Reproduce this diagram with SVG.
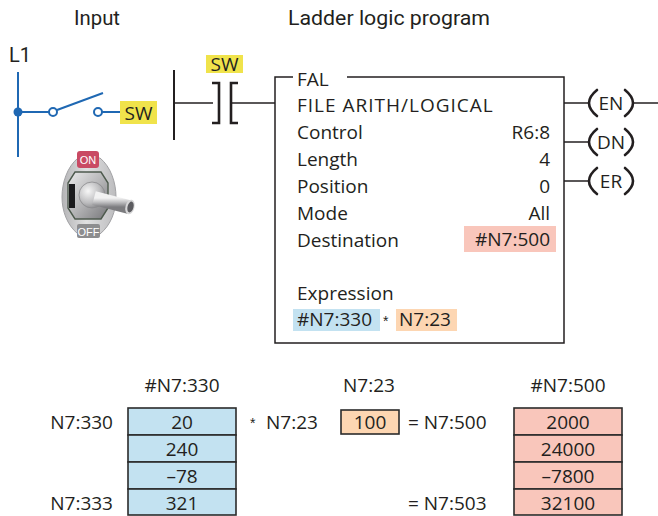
<svg xmlns="http://www.w3.org/2000/svg" width="658" height="516" viewBox="0 0 658 516">
  <defs>
    <style>
      .t { font-family: "Open Sans", "Liberation Sans", sans-serif; font-size: 19px; fill: #231f20; }
      .h { font-family: Roboto, "Liberation Sans", sans-serif; font-size: 20px; fill: #231f20; }
      .c { font-family: "Open Sans", "Liberation Sans", sans-serif; font-size: 19px; fill: #231f20; text-anchor: middle; }
      .e { text-anchor: end; }
      .m { text-anchor: middle; }
      .star { font-family: "Liberation Sans", sans-serif; font-size: 14px; fill: #231f20; }
      .wire { fill: none; stroke: #231f20; stroke-width: 1.5; }
      .rail { fill: none; stroke: #231f20; stroke-width: 2; }
      .blue { fill: none; stroke: #1f68b3; stroke-width: 2; }
      .paren { fill: none; stroke: #231f20; stroke-width: 2.6; stroke-linecap: round; }
      .cell { stroke: #2b2b2b; stroke-width: 1.6; }
      .cb { fill: #c3e2f1; }
      .cp { fill: #f9c6bb; }
      .co { fill: #fdd6b2; }
      .tag { fill: #f0e34b; }
    </style>
    <linearGradient id="plateG" x1="0" y1="0" x2="1" y2="0">
      <stop offset="0" stop-color="#b4b4b6"/>
      <stop offset="0.45" stop-color="#e0e0e1"/>
      <stop offset="1" stop-color="#bcbcbe"/>
    </linearGradient>
    <linearGradient id="nutG" x1="0" y1="0" x2="1" y2="1">
      <stop offset="0" stop-color="#ececec"/>
      <stop offset="0.55" stop-color="#b0b0b2"/>
      <stop offset="1" stop-color="#77777a"/>
    </linearGradient>
    <radialGradient id="bossG" cx="0.35" cy="0.35" r="0.75">
      <stop offset="0" stop-color="#f7f7f7"/>
      <stop offset="0.6" stop-color="#bdbdbf"/>
      <stop offset="1" stop-color="#808083"/>
    </radialGradient>
    <linearGradient id="leverG" x1="0" y1="0" x2="0" y2="1">
      <stop offset="0" stop-color="#f2f2f2"/>
      <stop offset="0.45" stop-color="#c2c2c4"/>
      <stop offset="1" stop-color="#7c7c7f"/>
    </linearGradient>
  </defs>

  <!-- section titles -->
  <text class="h" x="74" y="25" textLength="46" lengthAdjust="spacingAndGlyphs">Input</text>
  <text class="h" x="288" y="25" textLength="202" lengthAdjust="spacingAndGlyphs">Ladder logic program</text>

  <!-- input wiring: L1 line with a normally open switch -->
  <g id="input-circuit">
    <text class="h" x="9" y="62" font-size="19">L1</text>
    <line class="blue" x1="18" y1="72" x2="18" y2="157"/>
    <circle cx="18" cy="112" r="4.5" fill="#1f68b3"/>
    <line class="blue" x1="18" y1="112" x2="49" y2="112"/>
    <circle class="blue" cx="53" cy="112" r="4" fill="#fff"/>
    <line class="blue" x1="57" y1="110" x2="103" y2="93"/>
    <circle class="blue" cx="98" cy="112" r="4" fill="#fff"/>
    <line class="blue" x1="102" y1="112" x2="120" y2="112"/>
    <rect class="tag" x="120" y="101" width="37" height="23"/>
    <text class="t" x="138.5" y="119.5" text-anchor="middle">SW</text>
  </g>

  <!-- toggle switch illustration -->
  <g id="toggle-switch">
    <path d="M78,158 C67,167 62,183 62,197 C62,211 67,225 78,234 L100,234 C111,225 116,211 116,197 C116,183 111,167 100,158 Z" fill="url(#plateG)" stroke="#a2a2a5" stroke-width="1"/>
    <rect x="77" y="151" width="22" height="17" rx="3" fill="#c94a63"/>
    <text x="88" y="164" text-anchor="middle" font-family="'Liberation Sans', sans-serif" font-size="11" fill="#fff">ON</text>
    <rect x="77" y="224" width="23" height="14" rx="2" fill="#8d8d8f"/>
    <text x="88.5" y="235.5" text-anchor="middle" font-family="'Liberation Sans', sans-serif" font-size="11" fill="#fff">OFF</text>
    <polygon points="75,172 101,172 108,183 108,208 101,219 75,219 68,208 68,183" fill="url(#nutG)" stroke="#4d5a4d" stroke-width="1.4"/>
    <rect x="69" y="184" width="6" height="24" fill="#1b1b1d"/>
    <circle cx="92" cy="195" r="13" fill="url(#bossG)" stroke="#8a8a8d" stroke-width="0.8"/>
    <line x1="94" y1="198" x2="129" y2="207" stroke="url(#leverG)" stroke-width="14" stroke-linecap="butt"/>
    <ellipse cx="130" cy="207" rx="4.5" ry="7.5" fill="#d7d7d8" transform="rotate(15 130 207)"/>
    <ellipse cx="130.5" cy="207" rx="3" ry="5.5" fill="#5c5c60" transform="rotate(15 130.5 207)"/>
  </g>

  <!-- ladder rung wiring -->
  <g id="connectors">
    <line class="rail" x1="174" y1="70" x2="174" y2="140"/>
    <line class="wire" x1="174" y1="103" x2="213" y2="103"/>
    <line class="wire" x1="231" y1="103" x2="275" y2="103"/>
    <line class="wire" x1="564" y1="103" x2="589" y2="103"/>
    <line class="wire" x1="633" y1="103" x2="658" y2="103"/>
    <line class="wire" x1="564" y1="142" x2="589" y2="142"/>
    <line class="wire" x1="564" y1="181" x2="589" y2="181"/>
  </g>

  <g id="contact-sw">
    <rect class="tag" x="206" y="55" width="37" height="18"/>
    <text class="t" x="224.5" y="70.5" text-anchor="middle">SW</text>
    <polyline fill="none" stroke="#231f20" stroke-width="2.6" points="212,83 219,83 219,123 212,123"/>
    <polyline fill="none" stroke="#231f20" stroke-width="2.6" points="238,83 231,83 231,123 238,123"/>
  </g>

  <g id="fal-block">
    <polyline class="wire" points="293,77 275,77 275,343 564,343 564,77 347,77"/>
    <text class="t" x="297" y="86">FAL</text>
    <text class="t" x="297" y="112" letter-spacing="1">FILE ARITH/LOGICAL</text>
    <text class="t" x="297" y="139">Control</text>
    <text class="t e" x="550" y="139">R6:8</text>
    <text class="t" x="297" y="166">Length</text>
    <text class="t e" x="550" y="166">4</text>
    <text class="t" x="297" y="193">Position</text>
    <text class="t e" x="550" y="193">0</text>
    <text class="t" x="297" y="220">Mode</text>
    <text class="t e" x="550" y="220">All</text>
    <text class="t" x="297" y="247">Destination</text>
    <rect class="cp" x="464" y="226" width="92" height="26"/>
    <text class="t e" x="550" y="246">#N7:500</text>
    <text class="t" x="297" y="300">Expression</text>
    <rect class="cb" x="293" y="309" width="87" height="22"/>
    <text class="t" x="297" y="326">#N7:330</text>
    <text class="star" x="383" y="326">*</text>
    <rect class="co" x="396" y="309" width="61" height="22"/>
    <text class="t" x="399" y="326">N7:23</text>
  </g>

  <!-- output coils -->
  <g id="coil-en">
    <path class="paren" d="M597,90 Q581,103 597,116"/>
    <path class="paren" d="M625,90 Q641,103 625,116"/>
    <text class="c" x="611" y="110">EN</text>
  </g>
  <g id="coil-dn">
    <path class="paren" d="M597,129 Q581,142 597,155"/>
    <path class="paren" d="M625,129 Q641,142 625,155"/>
    <text class="c" x="611" y="149">DN</text>
  </g>
  <g id="coil-er">
    <path class="paren" d="M597,168 Q581,181 597,194"/>
    <path class="paren" d="M625,168 Q641,181 625,194"/>
    <text class="c" x="611" y="188">ER</text>
  </g>

  <!-- source file #N7:330 -->
  <g id="file-n7-330">
    <text class="t m" x="182" y="392">#N7:330</text>
    <rect class="cb cell" x="128" y="408" width="108" height="27"/>
    <rect class="cb cell" x="128" y="435" width="108" height="27"/>
    <rect class="cb cell" x="128" y="462" width="108" height="27"/>
    <rect class="cb cell" x="128" y="489" width="108" height="26"/>
    <text class="t m" x="182" y="429">20</text>
    <text class="t m" x="182" y="456">240</text>
    <text class="t m" x="182" y="483">–78</text>
    <text class="t m" x="182" y="510">321</text>
    <text class="t e" x="113" y="429">N7:330</text>
    <text class="t e" x="113" y="510">N7:333</text>
  </g>

  <!-- operator and constant word N7:23 -->
  <g id="word-n7-23">
    <text class="star" x="250" y="428">*</text>
    <text class="t" x="266" y="429">N7:23</text>
    <text class="t m" x="369" y="392">N7:23</text>
    <rect class="co cell" x="341" y="410" width="58" height="24"/>
    <text class="t m" x="370" y="429">100</text>
    <text class="t" x="408" y="429">= N7:500</text>
    <text class="t" x="408" y="510">= N7:503</text>
  </g>

  <!-- destination file #N7:500 -->
  <g id="file-n7-500">
    <text class="t m" x="568" y="392">#N7:500</text>
    <rect class="cp cell" x="514" y="408" width="108" height="27"/>
    <rect class="cp cell" x="514" y="435" width="108" height="27"/>
    <rect class="cp cell" x="514" y="462" width="108" height="27"/>
    <rect class="cp cell" x="514" y="489" width="108" height="26"/>
    <text class="t m" x="568" y="429">2000</text>
    <text class="t m" x="568" y="456">24000</text>
    <text class="t m" x="568" y="483">–7800</text>
    <text class="t m" x="568" y="510">32100</text>
  </g>
</svg>
